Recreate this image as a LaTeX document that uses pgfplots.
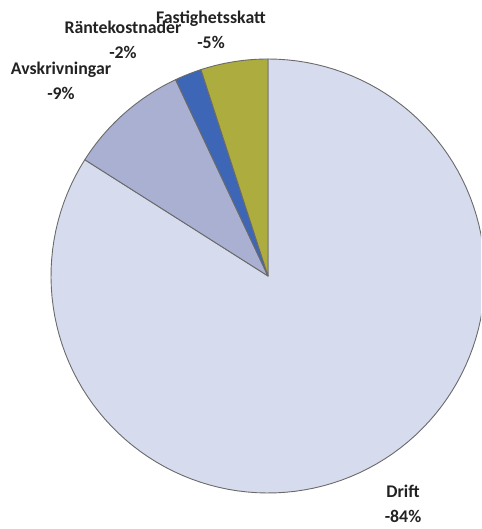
\documentclass[border=0pt]{standalone}
\usepackage{pgfplots}
\usepackage{pgfplotstable}
\pgfplotsset{compat=1.18}
\usepackage{fontspec}
\setmainfont{Carlito}
\definecolor{pie0}{HTML}{D6DBEE}
\definecolor{pie1}{HTML}{A9B0D2}
\definecolor{pie2}{HTML}{3D66B6}
\definecolor{pie3}{HTML}{ADAC3E}
\definecolor{edgec}{HTML}{6A6A6A}
\definecolor{txt}{HTML}{222222}
\pgfplotstableread{
label value
Drift 84
Avskrivningar 9
Rantekostnader 2
Fastighetsskatt 5
}\piedata
\begin{document}
\begin{tikzpicture}
\begin{axis}[width=481pt,height=529pt,scale only axis,
  xmin=0,xmax=481,ymin=0,ymax=529,hide axis]
\path (axis cs:0,0) rectangle (axis cs:481,529);
\def\cum{0}
\pgfplotsforeachungrouped \i in {0,...,3}{
  \pgfplotstablegetelem{\i}{value}\of\piedata
  \pgfmathsetmacro\a{90-3.6*\cum}
  \pgfmathsetmacro\cum{\cum+\pgfplotsretval}
  \pgfmathsetmacro\b{90-3.6*\cum}
  \edef\doplot{\noexpand\addplot[fill=pie\i, draw=edgec, line width=0.9pt, line join=round, domain=\b:\a, samples=120]
     ({268+217*cos(x)},{253+217*sin(x)}) -- (axis cs:268,253) -- cycle;}
  \doplot
}
\end{axis}
\begin{scope}[every node/.style={font=\bfseries\fontsize{17.8}{24.5}\selectfont, text=txt, align=center, inner sep=0pt}]
\node at (211pt,499pt) {Fastighetsskatt\\-5\%};
\node at (123pt,489pt) {Räntekostnader\\-2\%};
\node at (61pt,448pt) {Avskrivningar\\-9\%};
\node at (403pt,25pt) {Drift\\-84\%};
\end{scope}
\end{tikzpicture}
\end{document}
